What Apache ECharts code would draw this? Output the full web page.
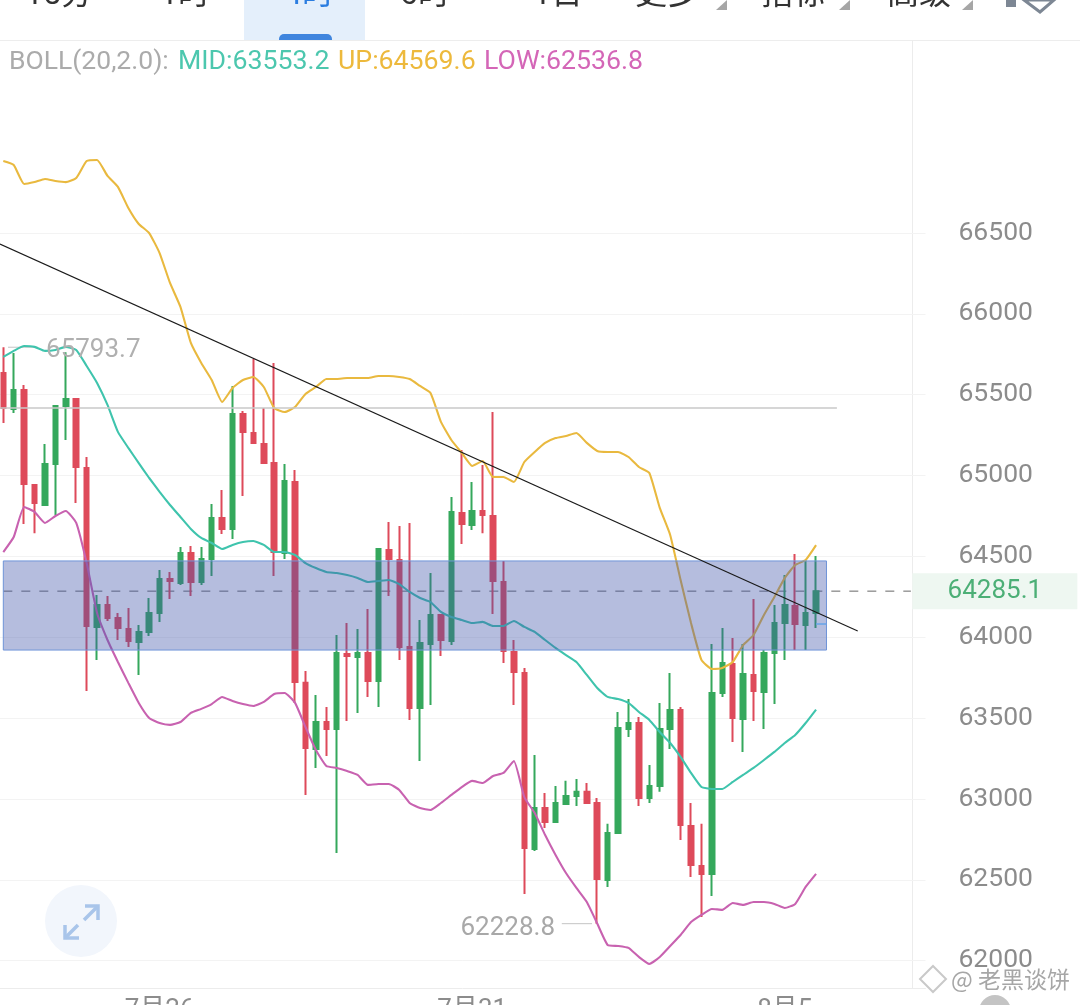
<!DOCTYPE html>
<html><head><meta charset="utf-8">
<style>html,body{margin:0;padding:0;background:#fff;overflow:hidden}#c{width:1080px;height:1005px}</style>
<script src="https://cdn.jsdelivr.net/npm/echarts@6/dist/echarts.min.js"></script>
</head><body><div id="c"></div>
<script>
const opens=[65634,65412,65529,64942,64818,65071,65431,65474,65047,64064,64200,64119,64051,63971,64033,64150,64360,64336,64521,64342,64484,64738,64670,65381,65263,65195,65077,64521,64960,63718,63309,63476,63433,63896,63878,63902,63730,64540,64478,63940,63563,63959,64138,63977,64769,64694,64781,64750,64342,63909,63779,62691,62944,62858,62969,63019,63044,62975,62499,62790,63433,63470,63006,63081,63433,63551,62833,62586,62536,63655,63835,63495,63767,63662,63902,64088,64194,64076,64150];
const closes=[65418,65529,64948,64830,65071,65431,65474,65053,64070,64200,64119,64058,63977,64033,64150,64360,64348,64521,64342,64484,64738,64670,65381,65270,65202,65077,64527,64966,63724,63316,63476,63433,63902,63884,63902,63730,64546,64484,63940,63563,63965,64138,63983,64775,64700,64781,64756,64348,63915,63785,62697,62944,62858,62975,63019,63044,62975,62505,62790,63439,63470,63006,63081,63433,63551,62839,62592,62536,63655,63841,63501,63773,63668,63902,64088,64200,64082,64150,64285.1];
const lows=[65325,65387,64700,64644,64812,64756,65220,64830,63668,63860,64101,63983,63940,63767,64008,64095,64237,64323,64255,64323,64379,64639,64608,64874,65202,65071,64379,64484,63594,63025,63192,63266,62666,63482,63532,63631,63569,64255,63860,63489,63235,63581,63884,63952,64577,64663,64644,64144,63841,63581,62413,62679,62821,62858,62963,62957,62975,62228.8,62456,62790,63383,62957,62975,63044,63309,62746,62518,62270,62400,63631,63352,63291,63482,63433,63587,63860,63921,63921,64058];
const highs=[65793.7,65758,65560,64942,65195,65437,65762,65480,65115,64261,64255,64150,64181,64076,64243,64416,64404,64558,64565,64558,64824,64911,65554,65400,65721,65418,65696,65071,65035,63792,63643,63569,64014,64088,64051,64175,64546,64713,64688,64707,64107,64397,64138,64868,65158,64960,65065,65393,64472,63983,63810,63272,63037,63081,63112,63124,63099,63006,62846,63538,63618,63507,63210,63594,63779,63569,62975,62846,63959,64058,63995,63959,64237,63921,64200,64385,64515,64478,64503];
const mid=[65734,65771,65801,65796,65771,65777,65796,65777,65678,65573,65437,65270,65171,65077,64985,64899,64818,64744,64670,64614,64583,64546,64571,64589,64595,64571,64527,64527,64509,64459,64428,64404,64397,64385,64367,64342,64348,64354,64329,64280,64243,64218,64157,64126,64107,64088,64095,64070,64070,64101,64064,64033,63983,63934,63890,63847,63767,63686,63631,63618,63594,63538,63489,63414,63346,63260,63161,63074,63062,63062,63105,63149,63192,63241,63291,63346,63396,63470,63553.2];
const up=[66945,66921,66803,66815,66834,66822,66815,66840,66945,66952,66853,66785,66655,66556,66500,66376,66191,66043,65820,65696,65591,65455,65542,65591,65610,65548,65418,65393,65424,65505,65548,65597,65597,65603,65603,65603,65616,65616,65610,65597,65554,65511,65332,65220,65140,65059,65090,64991,64991,64960,65084,65146,65202,65232,65245,65263,65202,65152,65146,65146,65115,65053,65016,64800,64633,64354,64088,63860,63804,63810,63847,63952,64014,64138,64249,64367,64447,64478,64569.6];
const low=[64527,64620,64806,64775,64707,64750,64781,64707,64459,64150,63983,63847,63718,63594,63501,63470,63458,63476,63532,63557,63587,63631,63606,63587,63575,63600,63649,63655,63594,63445,63303,63204,63192,63173,63149,63087,63093,63093,63056,62975,62944,62932,62975,63025,63074,63112,63099,63142,63161,63235,63012,62913,62777,62654,62542,62450,62363,62230,62097,62091,62079,62023,61980,62023,62091,62159,62239,62283,62320,62314,62357,62345,62363,62363,62351,62326,62351,62456,62536.8];
const yTicks=[62000,62500,63000,63500,64000,64500,65000,65500,66000,66500];
const xTickLabels=['7月26','7月31','8月5'];
const xTickIndex=[15,45,75];
const legendTexts=['BOLL(20,2.0):','MID:63553.2','UP:64569.6','LOW:62536.8'];
const tabTexts=['15分','1时','4时','6时','1日','更多','指标','高级'];
const lastPrice=64285.1, maxPrice=65793.7, minPrice=62228.8;
const zoneTop=64472, zoneBottom=63921, resistance=65418;
const trendLine=[[-0.32,66432],[82,64039]];

const FONT='Roboto, "Noto Sans CJK SC", sans-serif';
const RED='#de4a5a', GREEN='#35a85c';
const categories=Array.from({length:89},(_,i)=>{const k=xTickIndex.indexOf(i);return k>=0?xTickLabels[k]:String(i);});
const ohlc=opens.map((o,i)=>[o,closes[i],lows[i],highs[i]]);

function bollSeries(name,data,color){
  return {name,type:'line',data,xAxisIndex:0,yAxisIndex:0,showSymbol:false,symbol:'none',z:3,smooth:0.15,
    lineStyle:{color,width:2.1},silent:true};
}
function seg(name,pts,color,width,z,extra){
  return Object.assign({name,type:'line',data:pts,xAxisIndex:1,yAxisIndex:0,symbol:'none',showSymbol:false,clip:false,z,
    lineStyle:{color,width},silent:true},extra||{});
}
function tabText(t,x,color){return {type:'text',style:{text:t,x,y:12,textAlign:'center',textVerticalAlign:'bottom',font:'32px '+FONT,fill:color}};}
function tri(x,y){return {type:'polygon',shape:{points:[[x+11,y-10],[x+11,y],[x,y]]},style:{fill:'#a6a6a6'}};}

const graphics=[
 {type:'rect',shape:{x:244,y:0,width:121,height:40},style:{fill:'#e4effb'},z:-1},
 {type:'rect',shape:{x:279,y:34,width:53,height:7,r:[5,5,0,0]},style:{fill:'#3f85de'}},
 tabText(tabTexts[0],59,'#333'),tabText(tabTexts[1],185,'#333'),tabText(tabTexts[2],309,'#2b7de0'),
 tabText(tabTexts[3],425,'#333'),tabText(tabTexts[4],558,'#333'),tabText(tabTexts[5],667,'#333'),
 tabText(tabTexts[6],793,'#333'),tabText(tabTexts[7],919,'#333'),
 tri(716,10),tri(839,10),tri(962,10),
 {type:'rect',shape:{x:1006,y:0,width:10,height:7},style:{fill:'#7d8794'}},
 {type:'polygon',shape:{points:[[1024,0],[1040,12],[1054,0]]},style:{fill:'none',stroke:'#7d8794',lineWidth:3}},
 {type:'line',shape:{x1:0,y1:40.5,x2:1080,y2:40.5},style:{stroke:'#ededed',lineWidth:1}},
 {type:'line',shape:{x1:912.5,y1:40,x2:912.5,y2:988},style:{stroke:'#ececec',lineWidth:1}},
 {type:'text',style:{text:legendTexts[0],x:9,y:62,textVerticalAlign:'middle',font:'26.5px '+FONT,fill:'#ababab'}},
 {type:'text',style:{text:legendTexts[1],x:178,y:62,textVerticalAlign:'middle',font:'26.7px '+FONT,fill:'#4cc7ae'}},
 {type:'text',style:{text:legendTexts[2],x:338,y:62,textVerticalAlign:'middle',font:'26.7px '+FONT,fill:'#edb93c'}},
 {type:'text',style:{text:legendTexts[3],x:484,y:62,textVerticalAlign:'middle',font:'26.7px '+FONT,fill:'#d466b7'}},
 {type:'circle',shape:{cx:81,cy:921,r:36},style:{fill:'#f2f6fc'},z:20},
 {type:'polyline',shape:{points:[[84,920],[98,906]]},style:{stroke:'#a9c5ea',lineWidth:3.5,fill:'none'},z:21},
 {type:'polyline',shape:{points:[[85,906],[98,906],[98,920]]},style:{stroke:'#a9c5ea',lineWidth:3.5,fill:'none'},z:21},
 {type:'polyline',shape:{points:[[78,925],[65,938]]},style:{stroke:'#a9c5ea',lineWidth:3.5,fill:'none'},z:21},
 {type:'polyline',shape:{points:[[65,925],[65,938],[79,938]]},style:{stroke:'#a9c5ea',lineWidth:3.5,fill:'none'},z:21},
 {type:'circle',shape:{cx:995,cy:1011,r:16},style:{fill:'#c4c4c4'},z:20},
 {type:'polygon',shape:{points:[[933,966],[946,979],[933,992],[920,979]]},style:{fill:'none',stroke:'#c9c9c9',lineWidth:2},z:20},
 {type:'text',style:{text:'@ 老黑谈饼',x:951,y:979,textVerticalAlign:'middle',font:'23px "Noto Sans CJK SC"',fill:'rgba(150,150,150,0.85)',stroke:'rgba(255,255,255,0.7)',lineWidth:2},z:20}
];

const chart=echarts.init(document.getElementById('c'),null,{renderer:'canvas'});
chart.setOption({
 animation:false,
 textStyle:{fontFamily:FONT},
 grid:{left:-1.91,top:40.6,width:927.38,height:947.4,containLabel:false,outerBoundsMode:'none'},
 xAxis:[
  {type:'category',data:categories,boundaryGap:true,
   axisLine:{show:true,lineStyle:{color:'#ececec',width:1}},axisTick:{show:false},splitLine:{show:false},
   axisLabel:{color:'#8c8c8c',fontSize:26,margin:9,fontFamily:FONT,hideOverlap:false,
     interval:(i)=>xTickIndex.indexOf(i)>=0}},
  {type:'value',min:-0.5,max:88.5,show:false,splitLine:{show:false}}
 ],
 yAxis:[{type:'value',position:'right',min:61831,max:67690,scale:true,
   axisLine:{show:false},
   axisTick:{show:false,customValues:yTicks},
   axisLabel:{color:'#8c8c8c',fontSize:26.5,margin:33,align:'left',fontFamily:FONT,customValues:yTicks,formatter:(v)=>String(v),padding:[4,0,0,0]},
   splitLine:{show:true,lineStyle:{color:'#f3f3f3',width:1}}}],
 graphic:graphics,
 series:[
  {name:'K',type:'candlestick',data:ohlc,xAxisIndex:0,yAxisIndex:0,barWidth:5,z:2,silent:true,
   itemStyle:{color:GREEN,color0:RED,borderColor:GREEN,borderColor0:RED,borderWidth:2}},
  bollSeries('MID',mid,'#3fc4ad'),
  bollSeries('UP',up,'#e9b93f'),
  bollSeries('LOW',low,'#c862b0'),
  seg('last',[[0,lastPrice],[87.1,lastPrice]],'#8a8a8a',1.3,2,{lineStyle:{color:'#8a8a8a',width:1.3,type:[9,9]},
    markPoint:{z:7,symbol:'circle',symbolSize:0,silent:true,data:[
      {coord:[87,lastPrice],label:{show:true,position:'inside',offset:[85,0],formatter:String(lastPrice),color:'#4caf76',fontSize:26,fontFamily:FONT,
        width:165,height:36,lineHeight:40,align:'center',verticalAlign:'middle',backgroundColor:'#eef7f1'}}]}}),
  seg('zone',[[0,zoneTop],[79,zoneTop]],'rgba(0,0,0,0)',0,1,{markArea:{z:5,silent:true,
     itemStyle:{color:'rgba(64,84,170,0.39)',borderColor:'#6f94d8',borderWidth:1},
     data:[[{coord:[0,zoneTop]},{coord:[79,zoneBottom]}]]}}),
  seg('resistance',[[-0.32,resistance],[80,resistance]],'#c8c8c8',1.6,4),
  seg('trend',trendLine,'#1a1a1a',1.1,6),
  seg('handle',[[78,64082],[79,64082]],'#6aa5e8',1.6,6),
  seg('maxLeader',[[0.45,maxPrice],[3.3,maxPrice]],'#c4c4c4',1,1.5,{
    markPoint:{z:7,symbol:'circle',symbolSize:0,silent:true,data:[
      {coord:[4.1,maxPrice],label:{show:true,position:'right',distance:0,offset:[0,3],formatter:String(maxPrice),color:'#b0b0b0',fontSize:26,fontFamily:FONT}}]}}),
  seg('minLeader',[[53.6,minPrice],[56.5,minPrice]],'#c4c4c4',1,7,{
    markPoint:{z:7,symbol:'circle',symbolSize:0,silent:true,data:[
      {coord:[52.95,minPrice],label:{show:true,position:'left',distance:0,offset:[0,5],formatter:String(minPrice),color:'#a8a8a8',fontSize:26,fontFamily:FONT}}]}})
 ]
});
</script></body></html>
